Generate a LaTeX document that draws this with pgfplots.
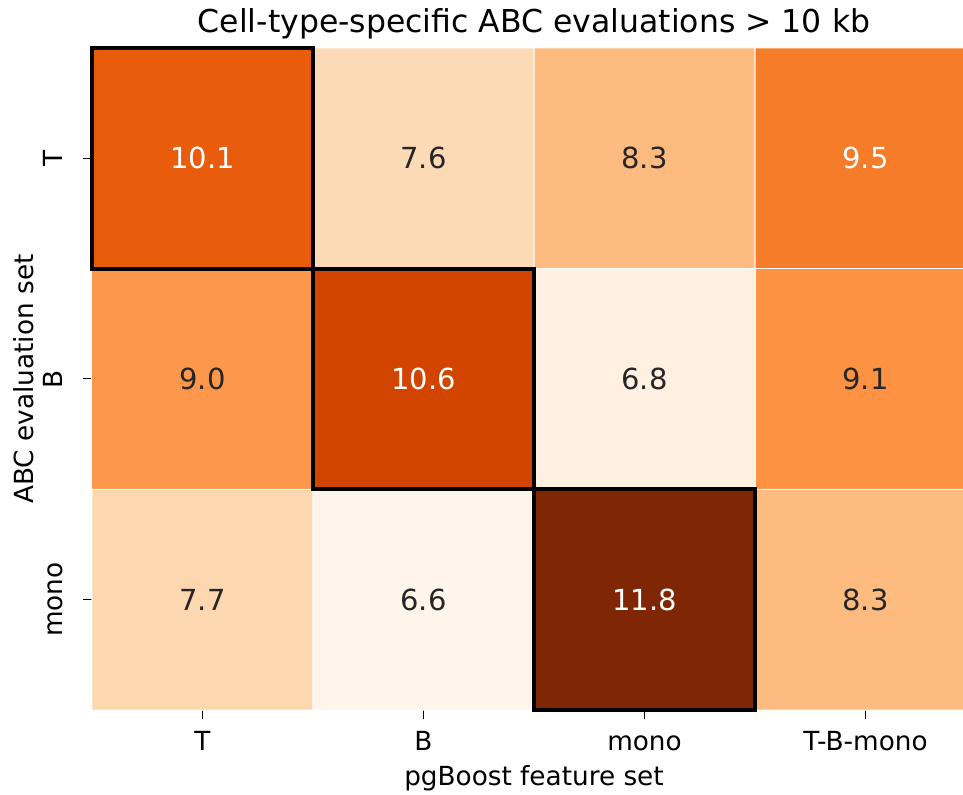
\documentclass[border=0pt]{standalone}
\usepackage{fontspec}
\setmainfont{DejaVu Sans}
\usepackage{pgfplots}
\pgfplotsset{compat=1.18}
\usetikzlibrary{calc}
\definecolor{annodark}{RGB}{38,38,38}
\pgfplotsset{colormap={oranges}{rgb255=(255,245,235) rgb255=(254,230,206) rgb255=(253,208,162) rgb255=(253,174,107) rgb255=(253,141,60) rgb255=(241,105,19) rgb255=(217,72,1) rgb255=(166,54,3) rgb255=(127,39,4)}}
\begin{document}
\begin{tikzpicture}
\begin{axis}[
  scale only axis, width=442pt, height=331pt,
  xmin=-0.5, xmax=3.5, ymin=-0.5, ymax=2.5, y dir=reverse,
  enlargelimits=false, clip=false,
  axis line style={draw=none},
  colormap name=oranges, point meta min=6.6, point meta max=11.8,
  xtick={0,1,2,3}, xticklabels={T,B,mono,T-B-mono},
  ytick={0,1,2}, yticklabels={T,B,mono},
  xtick pos=left, ytick pos=left,
  tick align=outside, major tick length=4.6pt,
  tick style={black, line width=0.5pt},
  ticklabel style={font=\fontsize{13.15}{15.8}\selectfont, inner sep=0pt},
  xticklabel style={anchor=base},
  xticklabel shift=15.4pt,
  yticklabel style={rotate=90, anchor=south},
  yticklabel shift=9.8pt,
  title={Cell-type-specific ABC evaluations > 10 kb},
  title style={at={(axis description cs:0.5,1)}, anchor=base, yshift=1.5pt, font=\fontsize{15.75}{19}\selectfont, inner sep=0pt},
  xlabel={pgBoost feature set},
  xlabel style={at={(axis description cs:0.5,-0.1133)}, anchor=base, font=\fontsize{13.15}{15.8}\selectfont, inner sep=0pt},
  ylabel={ABC evaluation set},
  ylabel style={at={(axis description cs:-0.0667,0.5)}, anchor=base, font=\fontsize{13.15}{15.8}\selectfont, inner sep=0pt},
]
\addplot[matrix plot*, mesh/cols=4, point meta=explicit, draw=white, line width=0.5pt] table[meta=v] {
x y v
0 0 10.1
1 0 7.6
2 0 8.3
3 0 9.5
0 1 9.0
1 1 10.6
2 1 6.8
3 1 9.1
0 2 7.7
1 2 6.6
2 2 11.8
3 2 8.3
};
\addplot[draw=none, mark=none, point meta=explicit symbolic, nodes near coords,
  nodes near coords style={anchor=center, text=white, font=\fontsize{14.5}{17}\selectfont}] table[meta=v] {
x y v
0 0 10.1
3 0 9.5
1 1 10.6
2 2 11.8
};
\addplot[draw=none, mark=none, point meta=explicit symbolic, nodes near coords,
  nodes near coords style={anchor=center, text=annodark, font=\fontsize{14.5}{17}\selectfont}] table[meta=v] {
x y v
1 0 7.6
2 0 8.3
0 1 9.0
2 1 6.8
3 1 9.1
0 2 7.7
1 2 6.6
3 2 8.3
};
\addplot[black, line width=2pt, line join=miter] coordinates {(-0.5,-0.5) (0.5,-0.5) (0.5,0.5) (-0.5,0.5)} --cycle;
\addplot[black, line width=2pt, line join=miter] coordinates {(0.5,0.5) (1.5,0.5) (1.5,1.5) (0.5,1.5)} --cycle;
\addplot[black, line width=2pt, line join=miter] coordinates {(1.5,1.5) (2.5,1.5) (2.5,2.5) (1.5,2.5)} --cycle;
\end{axis}
\pgfresetboundingbox
\path[use as bounding box] ($(current axis.south west)+(-46pt,-42.5pt)$) rectangle ($(current axis.south west)+(435.5pt,355pt)$);
\end{tikzpicture}
\end{document}
